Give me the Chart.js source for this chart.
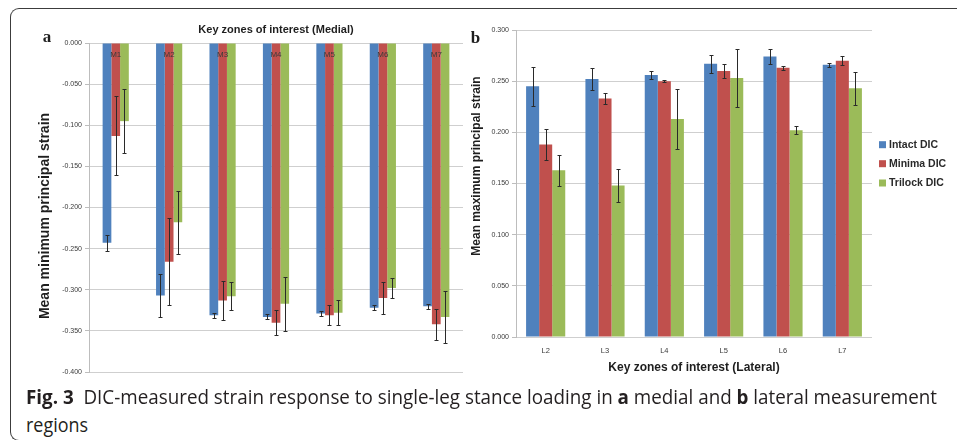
<!DOCTYPE html>
<html>
<head>
<meta charset="utf-8">
<script src="https://cdn.jsdelivr.net/npm/chart.js@4.4.0/dist/chart.umd.min.js"></script>
<style>
  html, body { margin: 0; padding: 0; background: #ffffff; width: 957px; height: 440px; overflow: hidden; }
  #frame { position: absolute; left: 10px; top: 8px; width: 980px; height: 433px;
           border: 1.5px solid #3c3c3c; border-right: none; border-radius: 9px 0 0 9px; box-sizing: border-box; }
  canvas { position: absolute; top: 0; }
  #ca { left: 0; }
  #cb { left: 460px; }
  .cap { position: absolute; left: 26px; font-family: 'Open Sans', 'Noto Sans', sans-serif; font-size: 19.5px;
         line-height: 20px; color: #231f20; white-space: nowrap; transform-origin: 0 0; }
  .cap b { font-weight: 700; }
</style>
</head>
<body>
<div id="frame"></div>
<canvas id="ca" width="470" height="390"></canvas>
<canvas id="cb" width="497" height="390"></canvas>
<div class="cap" id="cap1" style="top:386.5px"><b>Fig. 3</b>&nbsp; DIC-measured strain response to single-leg stance loading in <b>a</b> medial and <b>b</b> lateral measurement</div>
<div class="cap" id="cap2" style="top:415px">regions</div>
<script>
// ---------- DATA ----------
const seriesNames = ['Intact DIC', 'Minima DIC', 'Trilock DIC'];

const medialCategories = ['M1', 'M2', 'M3', 'M4', 'M5', 'M6', 'M7'];
const medialIntact   = [-0.243, -0.307, -0.331, -0.333, -0.329, -0.322, -0.320];
const medialIntactErr  = [0.010, 0.026, 0.003, 0.003, 0.003, 0.003, 0.003];
const medialMinima   = [-0.113, -0.266, -0.313, -0.340, -0.331, -0.310, -0.342];
const medialMinimaErr  = [0.048, 0.053, 0.024, 0.015, 0.012, 0.020, 0.019];
const medialTrilock  = [-0.095, -0.218, -0.308, -0.317, -0.328, -0.298, -0.333];
const medialTrilockErr = [0.039, 0.038, 0.017, 0.033, 0.015, 0.012, 0.032];
const medialTicks = [0, -0.05, -0.10, -0.15, -0.20, -0.25, -0.30, -0.35, -0.40];

const lateralCategories = ['L2', 'L3', 'L4', 'L5', 'L6', 'L7'];
const lateralIntact   = [0.245, 0.252, 0.256, 0.267, 0.274, 0.266];
const lateralIntactErr  = [0.019, 0.011, 0.004, 0.009, 0.007, 0.002];
const lateralMinima   = [0.188, 0.233, 0.250, 0.260, 0.263, 0.270];
const lateralMinimaErr  = [0.015, 0.005, 0.001, 0.007, 0.002, 0.0045];
const lateralTrilock  = [0.163, 0.148, 0.213, 0.253, 0.202, 0.243];
const lateralTrilockErr = [0.015, 0.016, 0.029, 0.028, 0.004, 0.016];
const lateralTicks = [0, 0.05, 0.10, 0.15, 0.20, 0.25, 0.30];

const titleMedial = 'Key zones of interest (Medial)';
const titleLateral = 'Key zones of interest (Lateral)';
const yTitleMedial = 'Mean minimum principal strain';
const yTitleLateral = 'Mean maximum principal strain';

// ---------- STYLE ----------
const colors = ['#4f81bd', '#c0504d', '#9bbb59'];
const SANS = "'Liberation Sans', Arial, sans-serif";
const SERIF = "'Liberation Serif', 'DejaVu Serif', serif";
Chart.defaults.font.family = SANS;
Chart.defaults.color = '#3a3a3a';

function fmt(v) { return Math.abs(v) < 1e-9 ? '0.000' : Number(v).toFixed(3); }

const errorBars = {
  id: 'errorBars',
  afterDatasetsDraw(chart) {
    const ctx = chart.ctx, ys = chart.scales.y;
    ctx.save();
    ctx.strokeStyle = '#2a2a2a';
    ctx.lineWidth = 1;
    chart.data.datasets.forEach((ds, di) => {
      const meta = chart.getDatasetMeta(di);
      meta.data.forEach((bar, i) => {
        const v = ds.data[i], e = ds.errors[i];
        const x = Math.round(bar.x) + 0.5;
        const y1 = Math.round(ys.getPixelForValue(v + e)) + 0.5;
        const y2 = Math.round(ys.getPixelForValue(v - e)) + 0.5;
        ctx.beginPath();
        ctx.moveTo(x, y1); ctx.lineTo(x, y2);
        ctx.moveTo(x - 2, y1); ctx.lineTo(x + 2, y1);
        ctx.moveTo(x - 2, y2); ctx.lineTo(x + 2, y2);
        ctx.stroke();
      });
    });
    ctx.restore();
  }
};

function makeDatasets(vals, errs, pct) {
  return vals.map((d, i) => ({
    label: seriesNames[i], data: d, errors: errs[i],
    backgroundColor: colors[i], borderWidth: 0,
    categoryPercentage: pct, barPercentage: 1.0
  }));
}

function yScale(min, max, ticksArr, width) {
  return {
    min: min, max: max,
    afterBuildTicks(scale) { scale.ticks = ticksArr.map(v => ({ value: v })); },
    afterFit(scale) { scale.width = width; },
    ticks: { font: { size: 7 }, color: '#3a3a3a', padding: 3, callback: v => fmt(v) },
    grid: { color: '#cfcfcf', lineWidth: 1, tickLength: 4, tickColor: '#bdbdbd' },
    border: { color: '#bdbdbd', width: 1 }
  };
}

// ---------- CHART A (medial) ----------
const textA = {
  id: 'textA',
  afterDraw(chart) {
    const ctx = chart.ctx, xs = chart.scales.x, ys = chart.scales.y, ca = chart.chartArea;
    ctx.save();
    ctx.textAlign = 'center'; ctx.textBaseline = 'middle';
    // category labels inside plot, below zero line
    ctx.fillStyle = '#3a3a3a';
    ctx.font = '8px ' + SANS;
    medialCategories.forEach((c, i) => {
      ctx.fillText(c, xs.getPixelForValue(i), ys.getPixelForValue(0) + 12);
    });
    // title
    ctx.fillStyle = '#1e1e1e';
    ctx.font = 'bold 11px ' + SANS;
    ctx.fillText(titleMedial, (ca.left + ca.right) / 2, 30);
    // panel letter
    ctx.font = 'bold 17px ' + SERIF;
    ctx.fillText('a', 47, 38);
    // y title
    ctx.font = 'bold 14px ' + SANS;
    ctx.translate(45, 216);
    ctx.rotate(-Math.PI / 2);
    ctx.fillText(yTitleMedial, 0, 0);
    ctx.restore();
  }
};

new Chart(document.getElementById('ca'), {
  type: 'bar',
  data: {
    labels: medialCategories,
    datasets: makeDatasets([medialIntact, medialMinima, medialTrilock],
                           [medialIntactErr, medialMinimaErr, medialTrilockErr], 0.49)
  },
  options: {
    responsive: false, animation: false, devicePixelRatio: 1,
    layout: { padding: { top: 43, left: 0, right: 7, bottom: 18 } },
    plugins: { legend: { display: false }, title: { display: false }, tooltip: { enabled: false } },
    scales: {
      x: { display: false },
      y: yScale(-0.4, 0, medialTicks, 89)
    }
  },
  plugins: [errorBars, textA]
});

// ---------- CHART B (lateral) ----------
const textB = {
  id: 'textB',
  afterDraw(chart) {
    const ctx = chart.ctx, ca = chart.chartArea;
    ctx.save();
    ctx.textAlign = 'center'; ctx.textBaseline = 'middle';
    ctx.fillStyle = '#1e1e1e';
    ctx.font = 'bold 12px ' + SANS;
    ctx.fillText(titleLateral, (ca.left + ca.right) / 2, 367.5);
    ctx.font = 'bold 17px ' + SERIF;
    ctx.fillText('b', 15.5, 38.5);
    // legend
    ctx.textAlign = 'left';
    ctx.font = 'bold 10.5px ' + SANS;
    const rows = [144.7, 163.7, 183];
    chart.data.datasets.forEach((ds, i) => {
      ctx.fillStyle = ds.backgroundColor;
      ctx.fillRect(419, rows[i] - 3.5, 7, 7);
      ctx.fillStyle = '#2a2a2a';
      ctx.fillText(ds.label, 429, rows[i] + 0.5);
    });
    // y title
    ctx.textAlign = 'center';
    ctx.fillStyle = '#1e1e1e';
    ctx.font = 'bold 12px ' + SANS;
    ctx.translate(17, 166);
    ctx.rotate(-Math.PI / 2);
    ctx.fillText(yTitleLateral, 0, 0);
    ctx.restore();
  }
};

new Chart(document.getElementById('cb'), {
  type: 'bar',
  data: {
    labels: lateralCategories,
    datasets: makeDatasets([lateralIntact, lateralMinima, lateralTrilock],
                           [lateralIntactErr, lateralMinimaErr, lateralTrilockErr], 0.66)
  },
  options: {
    responsive: false, animation: false, devicePixelRatio: 1,
    layout: { padding: { top: 30, left: 0, right: 85, bottom: 13 } },
    plugins: { legend: { display: false }, title: { display: false }, tooltip: { enabled: false } },
    scales: {
      x: {
        afterFit(scale) { scale.height = 40; },
        grid: { display: false, drawTicks: false },
        border: { display: false },
        ticks: { font: { size: 7.5 }, color: '#3a3a3a', padding: 9, maxRotation: 0 }
      },
      y: yScale(0, 0.3, lateralTicks, 56)
    }
  },
  plugins: [errorBars, textB]
});

// ---------- caption fitting ----------
function fit(id, target) {
  const el = document.getElementById(id);
  const w = el.getBoundingClientRect().width;
  el.style.transform = 'scaleX(' + (target / w) + ')';
}
fit('cap1', 911);
fit('cap2', 62);
</script>
</body>
</html>
